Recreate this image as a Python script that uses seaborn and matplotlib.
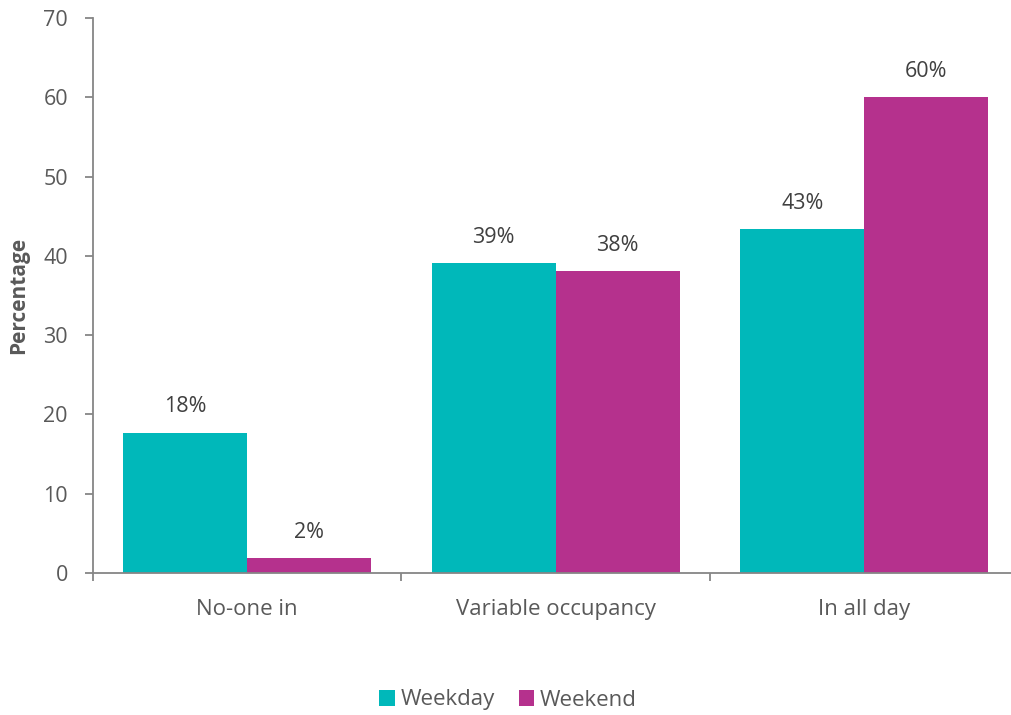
import matplotlib
matplotlib.use("Agg")
import matplotlib.pyplot as plt
import seaborn as sns
import pandas as pd
from matplotlib.patches import Patch

categories = ["No-one in", "Variable occupancy", "In all day"]
series = ["Weekday", "Weekend"]
weekday = [17.7, 39.1, 43.4]
weekend = [1.9, 38.1, 60.0]
labels_weekday = ["18%", "39%", "43%"]
labels_weekend = ["2%", "38%", "60%"]
colors = ["#00B8BA", "#B5318D"]

df = pd.DataFrame({
    "category": categories * 2,
    "series": [series[0]] * 3 + [series[1]] * 3,
    "value": weekday + weekend,
})

sns.set_theme(style="white")
plt.rcParams["font.family"] = ["Open Sans", "DejaVu Sans"]

fig = plt.figure(figsize=(10.12, 7.15), dpi=100)
ax = fig.add_axes([93 / 1012, 142 / 715, 925.5 / 1012, 555 / 715])

sns.barplot(data=df, x="category", y="value", hue="series", order=categories,
            hue_order=series, palette=colors, width=0.804, gap=0, ax=ax,
            legend=False, saturation=1, edgecolor="none")

ax.set_xlim(-0.5, 2.5)
ax.set_ylim(0, 70)
ax.set_yticks(range(0, 71, 10))

text_c = "#595959"
spine_c = "#868686"
for s in ["top", "right"]:
    ax.spines[s].set_visible(False)
for s in ["left", "bottom"]:
    ax.spines[s].set_color(spine_c)
    ax.spines[s].set_linewidth(1.3)

ax.tick_params(axis="y", which="major", length=6, width=1.3, color=spine_c,
               labelsize=15.5, labelcolor=text_c, pad=12, direction="out", left=True)
ax.set_xticks([-0.5, 0.5, 1.5, 2.5], minor=True)
ax.tick_params(axis="x", which="minor", length=6, width=1.3, color=spine_c, direction="out", bottom=True)
ax.tick_params(axis="x", which="major", length=0, labelsize=16, labelcolor=text_c, pad=19)
ax.set_xlabel("")
ax.set_ylabel("Percentage", fontsize=15, fontweight="bold", color=text_c, labelpad=10)

containers = ax.containers
for cont, labs in zip(containers, [labels_weekday, labels_weekend]):
    ax.bar_label(cont, labels=labs, padding=11, fontsize=15.5, color="#404040")

handles = [Patch(facecolor=c, edgecolor="none") for c in colors]
fig.legend(handles, series, loc="center", bbox_to_anchor=(508 / 1012, 1 - 700 / 715),
           ncol=2, frameon=False, fontsize=16, handlelength=0.7, handleheight=0.7,
           handletextpad=0.25, columnspacing=1.1, labelcolor=text_c)

fig.savefig("out.png", dpi=100)
